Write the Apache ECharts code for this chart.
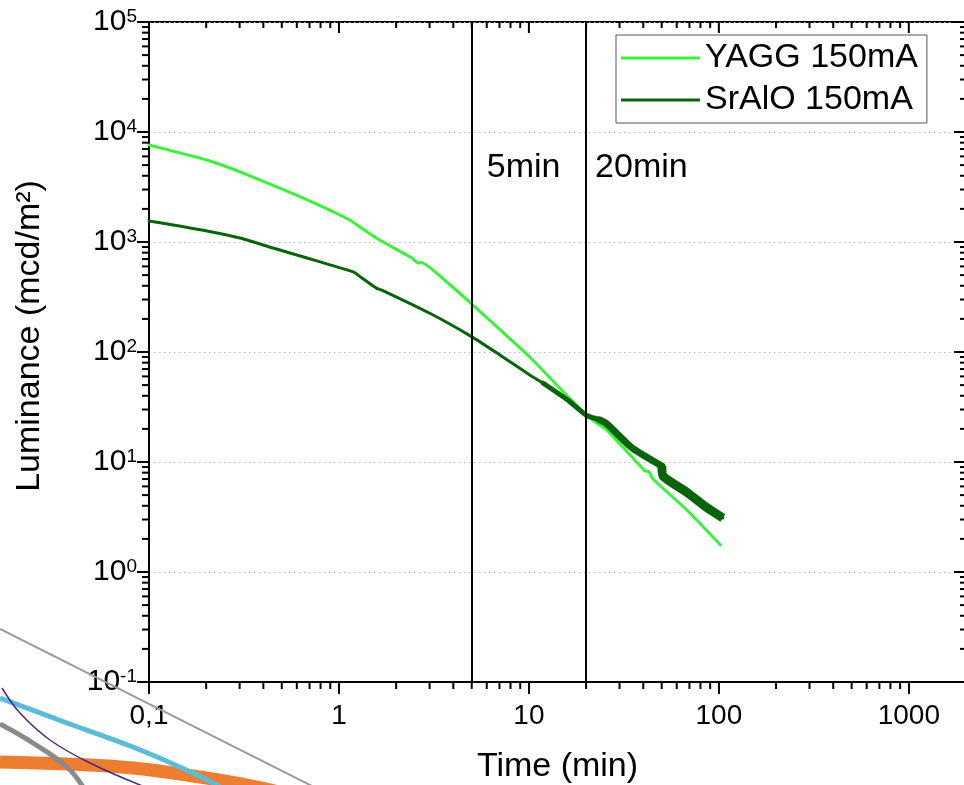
<!DOCTYPE html>
<html><head><meta charset="utf-8">
<script src="https://cdn.jsdelivr.net/npm/echarts@6/dist/echarts.min.js"></script>
<style>html,body{margin:0;padding:0;background:#fff}#c{width:964px;height:785px}</style>
</head><body><div id="c"></div>
<script>
// ---- data ----
const yaggTime = [0.1, 0.185, 0.25, 0.34, 0.624, 1.14, 1.29, 1.64, 2.42, 2.61, 2.72, 3.70, 5.07, 10.1, 20, 23.6, 25.8, 40.8, 42.8, 45, 67.9, 102];
const yaggLum  = [7620, 5800, 4910, 4000, 2580, 1585, 1370, 1042, 716, 644, 650, 433, 267, 90, 26.7, 21.7, 19.5, 8.28, 8.2, 7.0, 3.66, 1.76];
const sralTime = [0.1, 0.134, 0.202, 0.301, 0.45, 0.679, 0.897, 1.19, 1.30, 1.58, 1.68, 3.01, 4.99, 7.03, 10.1, 11.9, 16, 20, 23.6, 25.8, 35, 50.1, 51, 67.9, 85, 105];
const sralLum  = [1552, 1428, 1259, 1087, 881, 716, 620, 534, 481, 379, 366, 225, 138, 94, 61.8, 52, 36.6, 26.7, 24.1, 22.1, 13.4, 9.2, 7.4, 5.3, 3.93, 3.1];
const seriesNames = ['YAGG 150mA', 'SrAlO 150mA'];
const markerTimes = [5, 20];
const markerLabels = ['5min', '20min'];
const markerLabelLum = 4710;
const xTickValues = [0.1, 1, 10, 100, 1000];
const xTickLabels = ['0,1', '1', '10', '100', '1000'];
const yTickValues = [0.1, 1, 10, 100, 1000, 10000, 100000];
const yTickExponents = ['-1', '0', '1', '2', '3', '4', '5'];
const xMin = 0.1, xMax = 2000, yMin = 0.1, yMax = 100000;

// ---- build ----
const fam = '"Liberation Sans", Arial, Helvetica, sans-serif';
const pairs = (t, v) => t.map((x, i) => [x, v[i]]);
const yaggData = pairs(yaggTime, yaggLum);
const sralData = pairs(sralTime, sralLum);
const between = (d, a, b) => d.filter(p => p[0] >= a && p[0] <= b);

const xMinor = [], yMinor = [];
for (let k = -1; k <= 3; k++) for (let m = 2; m <= 9; m++) { const v = m * Math.pow(10, k); if (v < xMax) xMinor.push(v); }
for (let k = -1; k <= 4; k++) for (let m = 2; m <= 9; m++) yMinor.push(m * Math.pow(10, k));

const YAGG_C = '#3af23a', SR_C = '#086408';

const chart = echarts.init(document.getElementById('c'), null, {renderer: 'canvas'});
const tickStyle = {stroke: '#000', lineWidth: 2};

const option = {
  animation: false,
  backgroundColor: '#fff',
  textStyle: {fontFamily: fam},
  grid: {left: 149, top: 22, width: 817, height: 660, show: true, borderColor: '#000', borderWidth: 2,
         backgroundColor: 'transparent', outerBoundsMode: 'none', containLabel: false},
  legend: {
    data: seriesNames, orient: 'vertical', left: 616, top: 35,
    padding: [5, 9, 5, 5], itemGap: 6, itemWidth: 79, itemHeight: 3, icon: 'rect',
    backgroundColor: '#fff', borderColor: '#555', borderWidth: 1, borderRadius: 0,
    textStyle: {fontSize: 34, fontFamily: fam, color: '#000', lineHeight: 36}
  },
  xAxis: {
    type: 'log', logBase: 10, min: xMin, max: xMax, splitNumber: 4,
    name: 'Time (min)', nameLocation: 'middle', nameGap: 68, nameMoveOverlap: false,
    nameTextStyle: {fontSize: 34, fontFamily: fam, color: '#000'},
    axisLine: {show: true, lineStyle: {color: '#000', width: 2}},
    axisTick: {show: true, inside: false, length: 12, lineStyle: {color: '#000', width: 2}},
    splitLine: {show: false}, minorTick: {show: false},
    axisLabel: {
      show: true, margin: 20, fontSize: 28, fontFamily: fam, color: '#000', showMaxLabel: false,
      formatter: v => { const i = xTickValues.findIndex(t => Math.abs(t - v) / t < 1e-6); return i >= 0 ? xTickLabels[i] : ''; }
    }
  },
  yAxis: {
    type: 'log', logBase: 10, min: yMin, max: yMax, splitNumber: 6,
    axisLine: {show: true, lineStyle: {color: '#000', width: 2}},
    axisTick: {show: true, inside: false, length: 12, lineStyle: {color: '#000', width: 2}},
    splitLine: {show: true, lineStyle: {color: '#b8b8b8', width: 1, type: [1.5, 3.5]}},
    minorTick: {show: false},
    axisLabel: {
      show: true, margin: 12, color: '#000', fontFamily: fam,
      formatter: v => { const i = yTickValues.findIndex(t => Math.abs(t - v) / t < 1e-6); return i >= 0 ? '{b|10}{s|' + yTickExponents[i] + '}' : ''; },
      rich: {
        b: {fontSize: 30, fontFamily: fam, color: '#000', lineHeight: 30},
        s: {fontSize: 19, fontFamily: fam, color: '#000', lineHeight: 19, verticalAlign: 'top'}
      }
    }
  },
  series: [
    {name: seriesNames[0], type: 'line', data: yaggData, symbol: 'none', showSymbol: false, smooth: 0.15,
     lineStyle: {color: YAGG_C, width: 3, join: 'round', cap: 'round'}, itemStyle: {color: YAGG_C}, z: 3},
    {name: seriesNames[1], type: 'line', data: sralData, symbol: 'none', showSymbol: false, smooth: 0.2,
     lineStyle: {color: SR_C, width: 3, join: 'round', cap: 'round'}, itemStyle: {color: SR_C}, z: 4},
    {name: 'sr-band-1', type: 'line', data: between(sralData, 11.9, 25.8), symbol: 'none', silent: true, smooth: 0.2,
     lineStyle: {color: SR_C, width: 5, join: 'round', cap: 'round'}, z: 4},
    {name: 'sr-band-2', type: 'line', data: between(sralData, 23.6, 50.1), symbol: 'none', silent: true, smooth: 0.2,
     lineStyle: {color: SR_C, width: 7, join: 'round', cap: 'round'}, z: 4},
    {name: 'sr-band-3', type: 'line', data: between(sralData, 50.1, 105), symbol: 'none', silent: true, smooth: 0.2,
     lineStyle: {color: SR_C, width: 9, join: 'round', cap: 'butt'}, z: 4},
    {name: 'markers', type: 'scatter', z: 10, silent: true,
     data: markerTimes.map((t, i) => ({value: [t, markerLabelLum], label: {distance: i === 0 ? 14 : 8}})),
     symbol: 'circle', symbolSize: 2, itemStyle: {color: 'rgba(0,0,0,0)', opacity: 1},
     label: {show: true, position: 'right', fontSize: 34, fontFamily: fam, color: '#000', opacity: 1,
             formatter: p => markerLabels[p.dataIndex]},
     labelLayout: {hideOverlap: false},
     markLine: {silent: true, symbol: ['none', 'none'], label: {show: false},
                lineStyle: {color: '#000', width: 2, type: 'solid', opacity: 1},
                data: markerTimes.map(t => ({xAxis: t}))}
    },
    {name: 'ticks', type: 'custom', silent: true, clip: false, z: 6, data: [[1, 1]],
     renderItem: (params, api) => {
       const ch = [];
       const L = (x1, y1, x2, y2) => ch.push({type: 'line', shape: {x1, y1, x2, y2}, style: tickStyle});
       xMinor.forEach(v => {
         const b = api.coord([v, yMin]), t = api.coord([v, yMax]);
         L(b[0], b[1], b[0], b[1] + 7);
         L(t[0], t[1], t[0], t[1] + 6);
       });
       xTickValues.forEach(v => { const t = api.coord([v, yMax]); L(t[0], t[1], t[0], t[1] + 11); });
       yMinor.forEach(v => {
         const l = api.coord([xMin, v]), r = api.coord([xMax, v]);
         L(l[0] - 7, l[1], l[0], l[1]);
         L(r[0] - 6, r[1], r[0], r[1]);
       });
       yTickValues.forEach(v => { const r = api.coord([xMax, v]); L(r[0] - 12, r[1], r[0], r[1]); });
       return {type: 'group', children: ch};
     }
    }
  ],
  graphic: [
    {type: 'text', x: 30, y: 336, rotation: Math.PI / 2, z: 50,
     style: {text: 'Luminance (mcd/m²)', font: '34px ' + fam, fill: '#000', textAlign: 'center', textVerticalAlign: 'middle'}},
    // leftover decorative strokes at the lower-left corner of the picture
    {type: 'polyline', z: 60, silent: true, shape: {points: [[0, 762], [67, 764], [133, 768], [193, 776], [230, 782], [275, 791]], smooth: 0.4},
     style: {stroke: '#ed7d31', lineWidth: 13, fill: null}},
    {type: 'polyline', z: 61, silent: true, shape: {points: [[0, 724], [33, 743], [67, 767], [85, 790]], smooth: 0.4},
     style: {stroke: '#8a8a8a', lineWidth: 5, fill: null}},
    {type: 'polyline', z: 62, silent: true, shape: {points: [[0, 698], [67, 723], [133, 747], [193, 773], [222, 788]], smooth: 0.3},
     style: {stroke: '#5bbcd8', lineWidth: 5, fill: null}},
    {type: 'polyline', z: 63, silent: true, shape: {points: [[2, 688], [20, 713], [50, 740], [90, 763], [145, 787]], smooth: 0.4},
     style: {stroke: '#4b2a7a', lineWidth: 1.5, fill: null}},
    {type: 'line', z: 64, silent: true, shape: {x1: 0, y1: 629, x2: 314, y2: 787},
     style: {stroke: '#9a9a9a', lineWidth: 2}}
  ]
};
chart.setOption(option);
</script>
</body></html>
